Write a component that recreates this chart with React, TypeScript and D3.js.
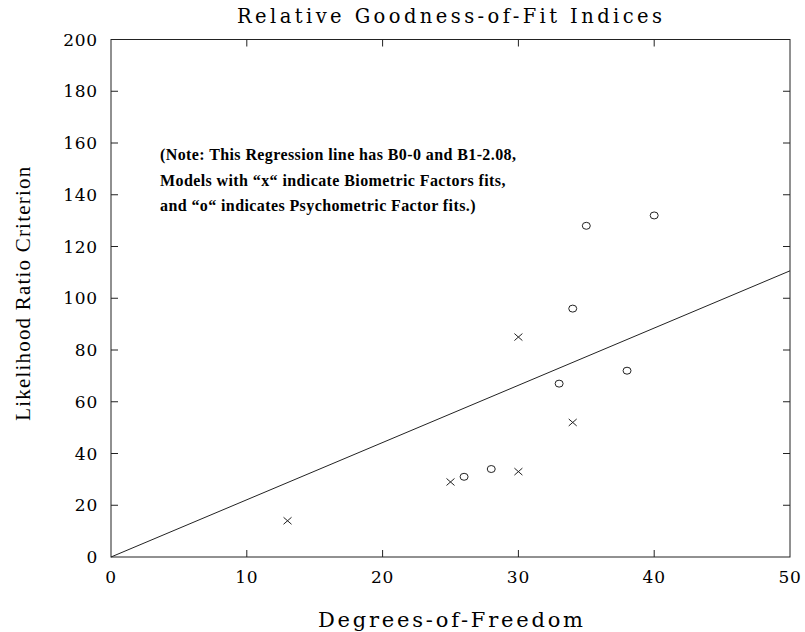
import React, { useRef, useEffect } from 'react';
import * as d3 from 'd3';

// df, chi-square values
const biometricDf = [13, 25, 30, 30, 34];
const biometricLrc = [14, 29, 85, 33, 52];
const psychometricDf = [26, 28, 33, 34, 35, 38, 40];
const psychometricLrc = [31, 34, 67, 96, 128, 72, 132];

// regression line endpoints (as drawn)
const lineDf = [0, 50];
const lineLrc = [0, 110.6];

const xTicks = [0, 10, 20, 30, 40, 50];
const yTicks = [0, 20, 40, 60, 80, 100, 120, 140, 160, 180, 200];

const titleText = 'Relative Goodness-of-Fit Indices';
const xLabel = 'Degrees-of-Freedom';
const yLabel = 'Likelihood Ratio Criterion';
const noteLines = [
    '(Note: This Regression line has B0-0 and B1-2.08,',
    'Models with \u201cx\u201c indicate Biometric Factors fits,',
    'and \u201co\u201c indicates Psychometric Factor fits.)',
];

export default function App() {
    const chartRef = useRef(null);
    const width = 805, height = 632;

    useEffect(() => {
        const margin = { top: 39.5, right: 15, bottom: 75, left: 111 };
        const slab = '"DejaVu Serif", serif';
        const serif = '"Liberation Serif", "Times New Roman", serif';

        const svg = d3.select(chartRef.current);
        svg.selectAll('*').remove();

        const xScale = d3.scaleLinear()
            .domain([0, 50])
            .range([margin.left, width - margin.right]);

        const yScale = d3.scaleLinear()
            .domain([0, 200])
            .range([height - margin.bottom, margin.top]);

        const x0 = xScale(0), x1 = xScale(50), y0 = yScale(0), y1 = yScale(200);

        // frame
        svg.append('rect')
            .attr('x', x0).attr('y', y1)
            .attr('width', x1 - x0).attr('height', y0 - y1)
            .attr('fill', 'none').attr('stroke', '#222').attr('stroke-width', 1);

        const tick = 7;
        xTicks.slice(1, -1).forEach(t => {
            svg.append('line').attr('x1', xScale(t)).attr('x2', xScale(t))
                .attr('y1', y0).attr('y2', y0 - tick).attr('stroke', '#222');
            svg.append('line').attr('x1', xScale(t)).attr('x2', xScale(t))
                .attr('y1', y1).attr('y2', y1 + tick).attr('stroke', '#222');
        });
        yTicks.slice(1, -1).forEach(t => {
            svg.append('line').attr('x1', x0).attr('x2', x0 + tick)
                .attr('y1', yScale(t)).attr('y2', yScale(t)).attr('stroke', '#222');
            svg.append('line').attr('x1', x1).attr('x2', x1 - tick)
                .attr('y1', yScale(t)).attr('y2', yScale(t)).attr('stroke', '#222');
        });

        // tick labels
        svg.append('g').selectAll('text').data(xTicks).join('text')
            .attr('x', d => xScale(d)).attr('y', y0 + 26)
            .attr('text-anchor', 'middle')
            .style('font-family', slab).style('font-size', '17px')
            .style('letter-spacing', '0.8px')
            .text(d => d);

        svg.append('g').selectAll('text').data(yTicks).join('text')
            .attr('x', x0 - 13).attr('y', d => yScale(d) + 6)
            .attr('text-anchor', 'end')
            .style('font-family', slab).style('font-size', '17px')
            .style('letter-spacing', '0.8px')
            .text(d => d);

        // regression line
        const line = d3.line<number>()
            .x((d, i) => xScale(lineDf[i]))
            .y(d => yScale(d));
        svg.append('path').datum(lineLrc)
            .attr('d', line)
            .attr('fill', 'none').attr('stroke', '#222').attr('stroke-width', 1);

        // biometric fits: x
        const bio = biometricDf.map((d, i) => [d, biometricLrc[i]]);
        svg.append('g').selectAll('path').data(bio).join('path')
            .attr('d', d => {
                const cx = xScale(d[0]), cy = yScale(d[1]);
                return `M${cx - 4},${cy - 3.5}L${cx + 4},${cy + 3.5}M${cx - 4},${cy + 3.5}L${cx + 4},${cy - 3.5}`;
            })
            .attr('stroke', '#222').attr('stroke-width', 1).attr('fill', 'none');

        // psychometric fits: o
        const psy = psychometricDf.map((d, i) => [d, psychometricLrc[i]]);
        svg.append('g').selectAll('ellipse').data(psy).join('ellipse')
            .attr('cx', d => xScale(d[0])).attr('cy', d => yScale(d[1]))
            .attr('rx', 4).attr('ry', 3.5)
            .attr('stroke', '#222').attr('stroke-width', 1).attr('fill', 'none');

        // title & axis labels
        svg.append('text')
            .attr('x', 237).attr('y', 23)
            .attr('textLength', 425).attr('lengthAdjust', 'spacing')
            .style('font-family', slab).style('font-size', '19.5px')
            .text(titleText);

        svg.append('text')
            .attr('x', 318).attr('y', 627)
            .attr('textLength', 265).attr('lengthAdjust', 'spacing')
            .style('font-family', slab).style('font-size', '21px')
            .text(xLabel);

        svg.append('text')
            .attr('transform', `translate(30,${(y0 + y1) / 2 - 5}) rotate(-90)`)
            .attr('text-anchor', 'middle')
            .style('font-family', serif).style('font-size', '21px')
            .style('letter-spacing', '1.2px')
            .text(yLabel);

        // note
        svg.append('g').selectAll('text').data(noteLines).join('text')
            .attr('x', 160).attr('y', (d, i) => 160 + i * 25.5)
            .style('font-family', serif).style('font-size', '16px')
            .style('font-weight', 'bold')
            .style('letter-spacing', '0.4px')
            .text(d => d);

    }, []);

    return (
        <div>
            <svg width={width} height={height} ref={chartRef}
                style={{ position: 'absolute', left: 0, top: 0, background: '#fff' }} />
        </div>
    );
}
